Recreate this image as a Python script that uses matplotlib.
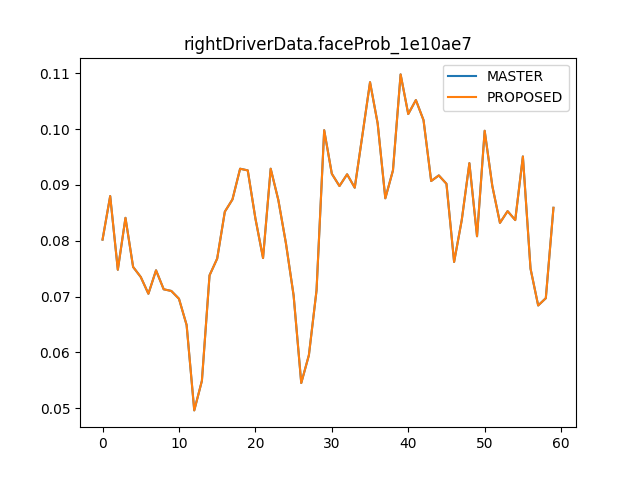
import numpy as np
import matplotlib
matplotlib.use("Agg")
import matplotlib.pyplot as plt

title = "rightDriverData.faceProb_1e10ae7"

# values (both series are the same)
master = [0.0802, 0.0880, 0.0748, 0.0841, 0.0753, 0.0735, 0.0705, 0.0747, 0.0713, 0.0710,
          0.0696, 0.0649, 0.0496, 0.0549, 0.0738, 0.0768, 0.0852, 0.0874, 0.0929, 0.0926,
          0.0840, 0.0769, 0.0929, 0.0873, 0.0795, 0.0702, 0.0545, 0.0595, 0.0711, 0.0998,
          0.0920, 0.0898, 0.0919, 0.0895, 0.0989, 0.1084, 0.1010, 0.0876, 0.0926, 0.1098,
          0.1027, 0.1052, 0.1016, 0.0907, 0.0917, 0.0902, 0.0762, 0.0837, 0.0939, 0.0808,
          0.0997, 0.0898, 0.0832, 0.0853, 0.0837, 0.0951, 0.0750, 0.0684, 0.0697, 0.0859]
proposed = list(master)

x = np.arange(len(master))

fig = plt.figure(figsize=(6.4, 4.8), dpi=100)
plt.plot(x, master, label="MASTER")
plt.plot(x, proposed, label="PROPOSED")
plt.title(title)
plt.legend()
plt.savefig("out.png")
